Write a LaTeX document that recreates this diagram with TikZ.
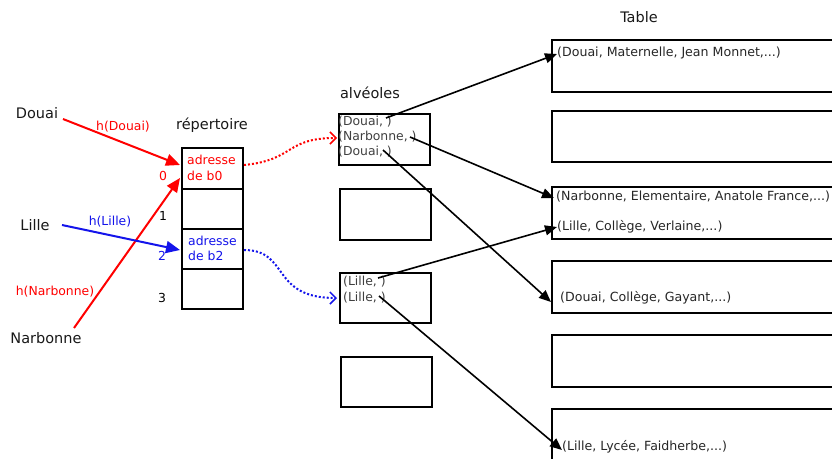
\documentclass[tikz,border=0pt]{standalone}
\usepackage{fontspec}
\setmainfont{DejaVu Sans}
\usetikzlibrary{arrows.meta}
\definecolor{tred}{RGB}{255,0,0}
\definecolor{tblue}{RGB}{20,20,235}
\begin{document}
\begin{tikzpicture}[x=1pt,y=-1pt,
  box/.style={draw, line width=2pt, inner sep=0pt, anchor=north west},
  lbl/.style={font=\fontsize{14.5}{17}\selectfont, inner sep=0pt, text=black!90},
  small/.style={font=\fontsize{12.4}{15}\selectfont, inner sep=0pt},
  cell/.style={small, anchor=west, text=black!75},
  tabtxt/.style={font=\fontsize{12.6}{15}\selectfont, inner sep=0pt, anchor=west, text=black!85},
  blk/.style={-{Triangle[length=12pt,width=10pt]}, line width=1.6pt},
  colarr/.style={-{Triangle[length=14pt,width=12pt]}, line width=2pt},
  dotarr/.style={dotted, line width=2pt, -{Straight Barb[length=6pt,width=12pt,line width=1.5pt]}}]
\clip (0,0) rectangle (832,458);
\fill[white] (0,0) rectangle (832,458);

% titles
\node[lbl] (ttable) at (639,17) {Table};
\node[lbl] (talv) at (370,93) {alvéoles};
\node[lbl] (trep) at (212,125) {répertoire};

% table rows
\node[box, minimum width=300pt, minimum height=52pt] (r1) at (551,39) {};
\node[box, minimum width=300pt, minimum height=51pt] (r2) at (551,110) {};
\node[box, minimum width=300pt, minimum height=52pt] (r3) at (551,186) {};
\node[box, minimum width=300pt, minimum height=52pt] (r4) at (551,260) {};
\node[box, minimum width=300pt, minimum height=52pt] (r5) at (551,334) {};
\node[box, minimum width=300pt, minimum height=60pt] (r6) at (551,408) {};

\node[tabtxt] (t1) at (557,53) {(Douai, Maternelle, Jean Monnet,...)};
\node[tabtxt] (t3a) at (556,197) {(Narbonne, Elementaire, Anatole France,...)};
\node[tabtxt] (t3b) at (557,227) {(Lille, Collège, Verlaine,...)};
\node[tabtxt] (t4) at (560,298) {(Douai, Collège, Gayant,...)};
\node[tabtxt] (t6) at (562,447) {(Lille, Lycée, Faidherbe,...)};

% alveoles
\node[box, minimum width=91pt, minimum height=51pt] (a1) at (338,113) {};
\node[box, minimum width=91pt, minimum height=51pt] (a2) at (339,188) {};
\node[box, minimum width=91pt, minimum height=50pt] (a3) at (339,272) {};
\node[box, minimum width=91pt, minimum height=50pt] (a4) at (340,356) {};

\node[cell] (d1) at (338,122) {(Douai, )};
\node[cell] (n1) at (338,137) {(Narbonne, )};
\node[cell] (d2) at (338,152) {(Douai, )};
\node[cell] (l1) at (343,282) {(Lille, )};
\node[cell] (l2) at (343,298) {(Lille, )};

% repertoire
\node[box, minimum width=61pt, minimum height=41pt] (c0) at (181,147) {};
\node[box, minimum width=61pt, minimum height=40pt] (c1) at (181,188) {};
\node[box, minimum width=61pt, minimum height=40pt] (c2) at (181,228) {};
\node[box, minimum width=61pt, minimum height=40pt] (c3) at (181,268) {};

\node[small, anchor=west, text=tred] (ad0) at (187,160) {adresse};
\node[small, anchor=west, text=tred] (db0) at (187,176) {de b0};
\node[small, anchor=west, text=tblue] (ad2) at (188,241) {adresse};
\node[small, anchor=west, text=tblue] (db2) at (188,256) {de b2};

\node[small, text=tred] (i0) at (163,176) {0};
\node[small, text=black] (i1) at (163,216) {1};
\node[small, text=tblue] (i2) at (162,256) {2};
\node[small, text=black] (i3) at (162,298) {3};

% keys
\node[lbl] (kdouai) at (37,113) {Douai};
\node[lbl] (klille) at (35,225) {Lille};
\node[lbl] (knarb) at (46,338) {Narbonne};

\node[small, text=tred] (hd) at (123,127) {h(Douai)};
\node[small, text=tblue] (hl) at (110,222) {h(Lille)};
\node[small, text=tred] (hn) at (55,292) {h(Narbonne)};

% key arrows
\coordinate (sD) at (63,119);
\coordinate (eD) at (180,165);
\coordinate (sL) at (62,225);
\coordinate (eL) at (180,250);
\coordinate (sN) at (74,328);
\coordinate (eN) at (180,178);
\draw[colarr, tred] (sD) -- (eD);
\draw[colarr, tred] (sN) -- (eN);
\draw[colarr, tblue] (sL) -- (eL);

% dotted pointers
\coordinate (p0) at (244,165);
\coordinate (q0) at (337,138);
\coordinate (p2) at (244,250);
\coordinate (q2) at (337,298);
\draw[dotarr, tred] (p0) .. controls (295,160) and (285,138) .. (q0);
\draw[dotarr, tblue] (p2) .. controls (290,250) and (270,298) .. (q2);

% alveole -> table arrows
\coordinate (sd1) at (386,118);
\coordinate (sn1) at (410,137);
\coordinate (sd2) at (383,150);
\coordinate (sl1) at (378,278);
\coordinate (sl2) at (379,296);
\coordinate (e1) at (557,54);
\coordinate (e3a) at (554,198);
\coordinate (e3b) at (557,227);
\coordinate (e4) at (551,302);
\coordinate (e6) at (562,450);
\draw[blk] (sd1) -- (e1);
\draw[blk] (sn1) -- (e3a);
\draw[blk] (sd2) -- (e4);
\draw[blk] (sl1) -- (e3b);
\draw[blk] (sl2) -- (e6);
\end{tikzpicture}
\end{document}
